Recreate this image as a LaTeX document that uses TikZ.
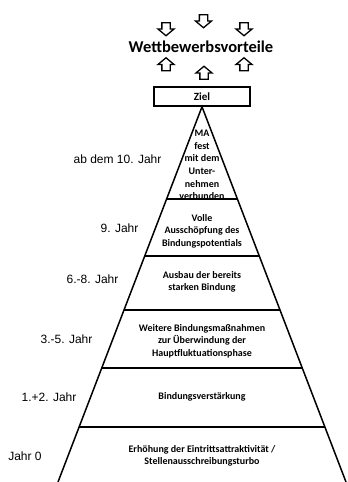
\documentclass[tikz,border=0pt]{standalone}
\usepackage{fontspec}
\setmainfont{Carlito}
\newfontfamily\jahrfont{Liberation Sans}
\usetikzlibrary{shapes.arrows,calc}

\tikzset{
    stufe/.style={align=center, inner sep=0pt, font=\bfseries\fontsize{10}{12.5}\selectfont},
    jahr/.style={inner sep=0pt, font=\jahrfont\fontsize{12}{14}\selectfont},
    pfeil/.style={single arrow, draw, line width=1.3pt, inner sep=3.5pt, minimum height=13pt,
        single arrow head extend=4pt, single arrow tip angle=100},
}

\begin{document}
\begin{tikzpicture}[x=1pt, y=-1pt, line width=1.5pt]
    \useasboundingbox (0,0) rectangle (348,482);

    % Wettbewerbsvorteile with its arrows
    \node[inner sep=0pt, font=\bfseries\fontsize{16.5}{18}\selectfont] (vorteile) at (201,47) {Wettbewerbsvorteile};
    \foreach \name/\x/\y in {ab1/166/27.5, ab2/203.5/19.5, ab3/244/27.5} {
        \node[pfeil, shape border rotate=270] (\name) at (\x,\y) {};
    }
    \foreach \name/\x/\y in {auf1/166/66, auf2/204/74.5, auf3/244/66} {
        \node[pfeil, shape border rotate=90] (\name) at (\x,\y) {};
    }

    % Ziel
    \node[draw, minimum width=96pt, minimum height=19pt, inner sep=0pt,
        font=\bfseries\fontsize{11}{13}\selectfont] (ziel) at (202,96.5) {Ziel};

    % Pyramid, open at the bottom
    \coordinate (spitze) at (ziel.south);
    \coordinate (links) at (58,482);
    \coordinate (rechts) at (346,482);
    \draw (links) -- (spitze) -- (rechts);
    \foreach \t in {0.2453,0.3973,0.5413,0.696,0.8533} {
        \draw ($(spitze)!\t!(links)$) -- ($(spitze)!\t!(rechts)$);
    }

    % Steps inside
    \node[stufe, font=\bfseries\fontsize{10}{12.7}\selectfont] (stufe5) at (202,165) {MA\\fest\\mit dem\\Unter-\\nehmen\\verbunden};
    \node[stufe] (stufe4) at (202,231) {Volle\\Ausschöpfung des\\Bindungspotentials};
    \node[stufe] (stufe3) at (202,282) {Ausbau der bereits\\starken Bindung};
    \node[stufe] (stufe2) at (202,341) {Weitere Bindungsmaßnahmen\\zur Überwindung der\\Hauptfluktuationsphase};
    \node[stufe] (stufe1) at (202,397) {Bindungsverstärkung};
    \node[stufe] (stufe0) at (202,456) {Erhöhung der Eintrittsattraktivität /\\Stellenausschreibungsturbo};

    % Years on the left
    \node[jahr] (jahr5) at (117.5,159) {ab dem 10. Jahr};
    \node[jahr] (jahr4) at (119.5,228) {9. Jahr};
    \node[jahr] (jahr3) at (92.5,279) {6.-8. Jahr};
    \node[jahr] (jahr2) at (66.5,339) {3.-5. Jahr};
    \node[jahr] (jahr1) at (49,397) {1.+2. Jahr};
    \node[jahr] (jahr0) at (25,456) {Jahr 0};

\end{tikzpicture}
\end{document}
